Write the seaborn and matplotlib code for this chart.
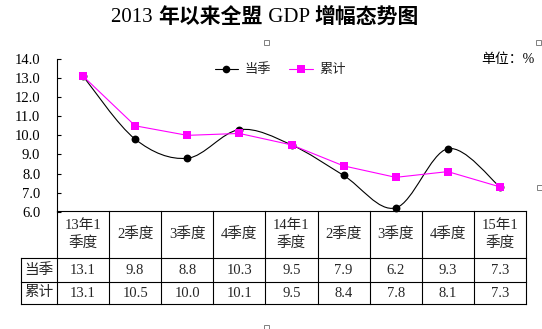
import numpy as np
import pandas as pd
import matplotlib
matplotlib.use("Agg")
import matplotlib.pyplot as plt
import seaborn as sns
from matplotlib.path import Path
from matplotlib.patches import PathPatch, Rectangle
from matplotlib.lines import Line2D

# ---- data ----
categories = ["13年1\n季度", "2季度", "3季度", "4季度", "14年1\n季度",
              "2季度", "3季度", "4季度", "15年1\n季度"]
dangji = [13.1, 9.8, 8.8, 10.3, 9.5, 7.9, 6.2, 9.3, 7.3]
leiji = [13.1, 10.5, 10.0, 10.1, 9.5, 8.4, 7.8, 8.1, 7.3]
series_names = ["当季", "累计"]
yticks = [6.0, 7.0, 8.0, 9.0, 10.0, 11.0, 12.0, 13.0, 14.0]
title_parts = [("2013 ", "normal"), ("年以来全盟", "bold"), (" GDP ", "normal"),
               ("增幅态势图", "bold")]
unit_label = "单位：%"

sns.set_theme(style="white")
plt.rcParams["font.family"] = ["Liberation Serif", "Noto Sans CJK SC"]

W, H = 542, 329
def fx(px): return px / W
def fy(py): return 1 - py / H

fig = plt.figure(figsize=(W / 100, H / 100), dpi=100)
fig.patch.set_facecolor("white")

ax = fig.add_axes([fx(57), fy(211.7), fx(526) - fx(57), fy(59) - fy(211.7)])
ax.set_facecolor("none")

pos = np.arange(len(categories))
df = pd.DataFrame({"pos": pos, series_names[0]: dangji, series_names[1]: leiji})

# smooth black line (Catmull-Rom style bezier through the points)
pts = np.column_stack([df["pos"].values.astype(float), df[series_names[0]].values])
n = len(pts)
verts = [pts[0]]
codes = [Path.MOVETO]
for i in range(n - 1):
    p0 = pts[max(i - 1, 0)]
    p1 = pts[i]
    p2 = pts[i + 1]
    p3 = pts[min(i + 2, n - 1)]
    c1 = p1 + (p2 - p0) / 6.0
    c2 = p2 - (p3 - p1) / 6.0
    verts += [c1, c2, p2]
    codes += [Path.CURVE4] * 3
ax.add_patch(PathPatch(Path(verts, codes), facecolor="none", edgecolor="black",
                       lw=0.8, zorder=2))
sns.scatterplot(data=df, x="pos", y=series_names[0], color="black", marker="o",
                s=32, linewidth=0, ax=ax, zorder=3, legend=False)

sns.lineplot(data=df, x="pos", y=series_names[1], color="#FF00FF", marker="s",
             markersize=5.5, markeredgewidth=0, linewidth=0.8, ax=ax, zorder=4,
             legend=False)

ax.set_xlim(-0.5, 8.5)
ax.set_ylim(6, 14)
ax.set_yticks(yticks)
ax.set_yticklabels([f"{v:.1f}" for v in yticks], fontsize=10.5)
ax.set_xticks([])
ax.set_xlabel("")
ax.set_ylabel("")
ax.tick_params(axis="y", direction="in", length=3, width=0.8, pad=12,
               left=True, colors="black")
for s in ["top", "right", "bottom"]:
    ax.spines[s].set_visible(False)
ax.spines["left"].set_color("black")
ax.spines["left"].set_linewidth(0.8)

# legend
handles = [
    Line2D([0], [0], color="black", lw=0.8, marker="o", markersize=5.5, markeredgewidth=0),
    Line2D([0], [0], color="#FF00FF", lw=0.8, marker="s", markersize=5.5, markeredgewidth=0),
]
fig.legend(handles, series_names, loc="center", bbox_to_anchor=(fx(280), fy(70)),
           ncol=2, frameon=False, fontsize=9.5, handlelength=1.8,
           handletextpad=0.45, columnspacing=1.4, borderpad=0)

# title (mixed weights), laid out piece by piece and centred
renderer = fig.canvas.get_renderer()
title_texts = []
for txt, wt in title_parts:
    t = fig.text(0, fy(18), txt, ha="left", va="center", fontsize=15,
                 fontweight=wt, color="black")
    title_texts.append(t)
widths = [t.get_window_extent(renderer=renderer).width for t in title_texts]
total = sum(widths)
x0 = 265 - total / 2
for t, w in zip(title_texts, widths):
    t.set_x(fx(x0))
    x0 += w

fig.text(fx(535), fy(60), unit_label, ha="right", va="center", fontsize=10,
         color="black")

# ---- data table ----
tax = fig.add_axes([fx(57), fy(304), fx(526) - fx(57), fy(211.4) - fy(304)])
tax.set_xlim(-0.5, 8.5)
tax.set_ylim(304, 211.4)
tax.axis("off")
unit_px = (526 - 57) / 9.0
xl = -0.5 - (57 - 20.7) / unit_px
y_top, y_h, y_r1, y_r2 = 211.4, 258.0, 281.7, 304.0
lk = dict(color="black", lw=0.8, clip_on=False, solid_capstyle="projecting")
tax.plot([-0.5, 8.5], [y_top, y_top], **lk)
for yy in [y_h, y_r1, y_r2]:
    tax.plot([xl, 8.5], [yy, yy], **lk)
for k in range(len(categories) + 1):
    tax.plot([k - 0.5, k - 0.5], [y_top, y_r2], **lk)
tax.plot([xl, xl], [y_h, y_r2], **lk)

for i, c in enumerate(categories):
    tax.text(i, (y_top + y_h) / 2, c, ha="center", va="center", fontsize=10.5,
             linespacing=1.45, clip_on=False)
    tax.text(i, (y_h + y_r1) / 2 + 1, f"{dangji[i]:.1f}", ha="center", va="center",
             fontsize=10.5, clip_on=False)
    tax.text(i, (y_r1 + y_r2) / 2 + 1, f"{leiji[i]:.1f}", ha="center", va="center",
             fontsize=10.5, clip_on=False)
xc = (xl - 0.5) / 2
tax.text(xc, (y_h + y_r1) / 2, series_names[0], ha="center", va="center",
         fontsize=10.5, clip_on=False)
tax.text(xc, (y_r1 + y_r2) / 2, series_names[1], ha="center", va="center",
         fontsize=10.5, clip_on=False)

# selection handles (decorative)
for (px, py) in [(266, 42), (538, 42), (539, 187), (266, 327)]:
    fig.patches.append(Rectangle((fx(px - 2.5), fy(py + 2.5)), 5 / W, 5 / H,
                                 transform=fig.transFigure, facecolor="white",
                                 edgecolor="#808080", lw=0.7))

fig.savefig("out.png", dpi=100, facecolor="white")
